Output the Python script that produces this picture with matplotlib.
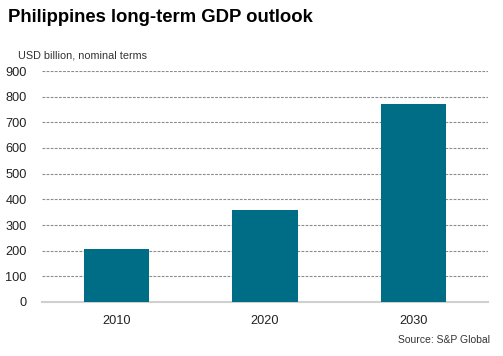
import matplotlib.pyplot as plt

years = ["2010", "2020", "2030"]
gdp = [206, 358, 771]
yticks = [0, 100, 200, 300, 400, 500, 600, 700, 800, 900]

plt.rcParams['font.family'] = ['Liberation Sans', 'DejaVu Sans']

fig = plt.figure(figsize=(5.03, 3.56), dpi=100)
ax = fig.add_axes([42 / 503, 1 - 302 / 356, 446 / 503, 231 / 356])

ax.bar(range(len(years)), gdp, width=0.44, color="#006d87", zorder=3)
ax.set_xlim(-0.5, 2.5)
ax.set_ylim(0, 900)
ax.set_yticks(yticks)
ax.set_xticks(range(len(years)))
ax.set_xticklabels(years)
ax.yaxis.grid(True, linestyle=(0, (2.5, 1.2)), color="#8c8c8c", linewidth=0.8, zorder=0)
for s in ["top", "right", "left"]:
    ax.spines[s].set_visible(False)
ax.spines["bottom"].set_color("#d0d0d0")
ax.spines["bottom"].set_linewidth(1.5)
ax.tick_params(length=0, labelsize=9.2, colors="#222222")
ax.tick_params(axis="y", pad=11)
ax.tick_params(axis="x", pad=9)

fig.text(8 / 503, 1 - 17 / 356, "Philippines long-term GDP outlook", fontsize=13.3,
         fontweight="bold", va="center", ha="left")
fig.text(18 / 503, 1 - 55 / 356, "USD billion, nominal terms", fontsize=7.8,
         va="center", ha="left", color="#333333")
fig.text(490 / 503, 1 - 340 / 356, "Source: S&P Global", fontsize=7.5,
         va="center", ha="right", color="#333333")

fig.savefig("out.png", dpi=100)
